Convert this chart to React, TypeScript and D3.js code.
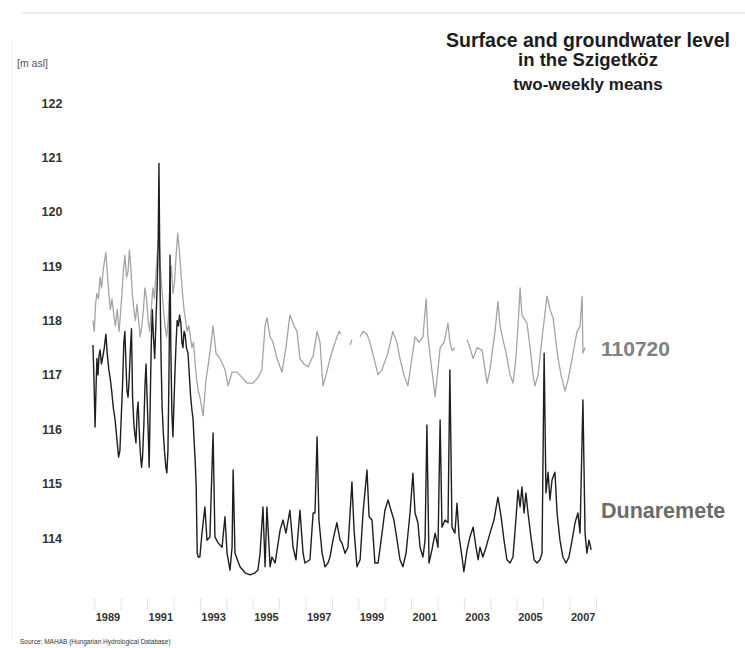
import React from "react";
import * as d3 from "d3";

// Year labels on the time axis (each label sits in the middle of its year)
const yearLabels = [1989, 1991, 1993, 1995, 1997, 1999, 2001, 2003, 2005, 2007];
// Level ticks in metres above sea level
const levelTicks = [114, 115, 116, 117, 118, 119, 120, 121, 122];

// Dunaremete (Danube surface water), two-weekly means: [decimal year, m asl]
const dunaremete: [number, number][] = [
  [1988.93, 117.55], [1988.97, 116.9], [1989.01, 116.04], [1989.05, 116.8], [1989.08, 117.3],
  [1989.12, 117.0], [1989.16, 117.35], [1989.2, 117.46], [1989.25, 117.2], [1989.31, 117.35],
  [1989.36, 117.5], [1989.42, 117.75], [1989.47, 117.4], [1989.53, 117.1], [1989.58, 116.95],
  [1989.64, 116.7], [1989.7, 116.4], [1989.77, 116.17], [1989.84, 115.8], [1989.9, 115.49],
  [1989.95, 115.6], [1990.0, 116.2], [1990.05, 116.8], [1990.1, 117.6], [1990.14, 117.8],
  [1990.18, 117.2], [1990.22, 116.7], [1990.26, 116.59], [1990.3, 116.9], [1990.35, 117.5],
  [1990.39, 117.85], [1990.43, 116.6], [1990.48, 116.1], [1990.52, 115.9], [1990.56, 115.75],
  [1990.6, 116.3], [1990.64, 116.5], [1990.68, 116.0], [1990.72, 115.6], [1990.77, 115.3],
  [1990.81, 115.5], [1990.86, 116.1], [1990.9, 116.8], [1990.94, 117.2], [1990.98, 116.6],
  [1991.02, 116.0], [1991.06, 115.3], [1991.1, 116.5], [1991.14, 117.6], [1991.18, 118.2],
  [1991.22, 117.7], [1991.27, 117.3], [1991.31, 117.9], [1991.36, 118.6], [1991.4, 119.4],
  [1991.43, 120.89], [1991.47, 118.7], [1991.51, 117.3], [1991.55, 116.4], [1991.6, 115.9],
  [1991.64, 115.6], [1991.69, 115.3], [1991.73, 115.2], [1991.77, 115.6], [1991.81, 117.0],
  [1991.85, 119.2], [1991.88, 117.5], [1991.92, 116.3], [1991.96, 115.86], [1992.0, 116.5],
  [1992.04, 117.1], [1992.08, 117.6], [1992.12, 118.0], [1992.17, 117.9], [1992.21, 118.1],
  [1992.26, 117.95], [1992.3, 117.6], [1992.34, 117.5], [1992.38, 117.8], [1992.42, 117.75],
  [1992.47, 117.5], [1992.53, 117.4], [1992.58, 117.0], [1992.63, 116.6], [1992.68, 116.35],
  [1992.72, 116.2], [1992.76, 115.8], [1992.8, 115.45], [1992.84, 114.95], [1992.88, 113.72],
  [1992.92, 113.65], [1992.98, 113.65], [1993.06, 114.09], [1993.17, 114.57], [1993.25, 113.96],
  [1993.36, 114.02], [1993.48, 115.93], [1993.55, 114.02], [1993.67, 113.91], [1993.82, 113.83],
  [1993.93, 114.39], [1994.01, 113.72], [1994.12, 113.41], [1994.2, 113.83], [1994.24, 115.25],
  [1994.31, 113.72], [1994.5, 113.47], [1994.69, 113.36], [1994.88, 113.32], [1995.07, 113.36],
  [1995.18, 113.41], [1995.26, 113.72], [1995.37, 114.57], [1995.45, 113.47], [1995.52, 114.57],
  [1995.64, 113.47], [1995.71, 113.65], [1995.83, 113.54], [1996.02, 114.15], [1996.13, 114.33],
  [1996.24, 114.09], [1996.39, 114.51], [1996.51, 113.83], [1996.62, 113.6], [1996.77, 114.51],
  [1996.89, 113.72], [1996.96, 113.54], [1997.15, 113.6], [1997.27, 114.46], [1997.34, 114.46],
  [1997.42, 115.86], [1997.49, 114.33], [1997.61, 113.72], [1997.72, 113.47], [1997.83, 113.54],
  [1997.91, 113.65], [1998.02, 113.96], [1998.17, 114.28], [1998.29, 113.96], [1998.36, 113.91],
  [1998.48, 113.72], [1998.59, 113.83], [1998.67, 114.46], [1998.74, 115.03], [1998.82, 114.15],
  [1998.93, 113.47], [1999.05, 113.6], [1999.16, 114.46], [1999.23, 114.83], [1999.31, 115.25],
  [1999.39, 114.39], [1999.5, 114.33], [1999.61, 113.54], [1999.73, 113.54], [1999.88, 114.09],
  [1999.99, 114.51], [2000.11, 114.7], [2000.22, 114.51], [2000.33, 114.33], [2000.45, 113.96],
  [2000.56, 113.6], [2000.67, 113.47], [2000.79, 113.72], [2000.94, 114.46], [2001.05, 115.19],
  [2001.13, 114.46], [2001.24, 114.28], [2001.32, 113.83], [2001.43, 113.65], [2001.51, 113.96],
  [2001.58, 116.08], [2001.66, 113.54], [2001.77, 113.78], [2001.89, 114.09], [2002.0, 113.83],
  [2002.08, 116.17], [2002.15, 114.2], [2002.27, 114.33], [2002.38, 114.28], [2002.45, 117.09],
  [2002.53, 114.2], [2002.64, 114.09], [2002.72, 114.64], [2002.8, 114.02], [2002.91, 113.65],
  [2002.98, 113.38], [2003.1, 113.78], [2003.21, 114.02], [2003.33, 114.2], [2003.44, 113.83],
  [2003.52, 113.6], [2003.59, 113.83], [2003.7, 113.65], [2003.82, 113.83], [2003.97, 114.09],
  [2004.12, 114.33], [2004.27, 114.75], [2004.39, 114.39], [2004.5, 113.96], [2004.61, 113.6],
  [2004.73, 113.54], [2004.84, 113.65], [2004.95, 114.33], [2005.03, 114.88], [2005.11, 114.57],
  [2005.18, 114.94], [2005.26, 114.46], [2005.33, 114.83], [2005.41, 114.46], [2005.52, 114.02],
  [2005.64, 113.6], [2005.75, 113.54], [2005.86, 113.6], [2005.94, 113.72], [2006.02, 117.4],
  [2006.09, 114.83], [2006.17, 115.21], [2006.24, 114.7], [2006.32, 115.07], [2006.43, 115.21],
  [2006.51, 114.46], [2006.62, 113.96], [2006.73, 113.65], [2006.85, 113.54], [2006.96, 113.65],
  [2007.08, 113.96], [2007.19, 114.28], [2007.3, 114.46], [2007.38, 114.09], [2007.49, 116.54],
  [2007.57, 114.09], [2007.64, 113.72], [2007.72, 113.96], [2007.8, 113.78],
];

// Groundwater well 110720, two-weekly means: [decimal year, m asl]; null marks a gap in the record
const well110720: [number, number | null][] = [
  [1988.93, 118.0], [1988.98, 117.8], [1989.03, 118.3], [1989.08, 118.5], [1989.14, 118.4],
  [1989.2, 118.8], [1989.26, 118.6], [1989.31, 118.9], [1989.37, 119.1], [1989.42, 119.25],
  [1989.47, 118.9], [1989.53, 118.5], [1989.59, 118.2], [1989.65, 118.4], [1989.72, 118.1],
  [1989.78, 117.9], [1989.85, 118.2], [1989.92, 117.8], [1989.97, 118.1], [1990.03, 118.5],
  [1990.08, 118.9], [1990.14, 119.2], [1990.2, 118.8], [1990.26, 118.9], [1990.31, 119.3],
  [1990.36, 119.0], [1990.42, 118.5], [1990.48, 118.2], [1990.54, 118.0], [1990.6, 118.3],
  [1990.66, 118.0], [1990.72, 117.7], [1990.78, 117.9], [1990.84, 118.2], [1990.9, 118.6],
  [1990.96, 118.4], [1991.02, 118.0], [1991.08, 117.8], [1991.14, 118.2], [1991.2, 118.6],
  [1991.26, 118.4], [1991.32, 118.9], [1991.38, 119.3], [1991.43, 119.6], [1991.48, 119.0],
  [1991.54, 118.6], [1991.6, 118.2], [1991.66, 117.9], [1991.72, 117.7], [1991.78, 118.0],
  [1991.84, 118.6], [1991.9, 119.0], [1991.96, 118.5], [1992.02, 118.7], [1992.08, 119.2],
  [1992.14, 119.6], [1992.2, 119.3], [1992.26, 118.9], [1992.32, 118.5], [1992.38, 118.2],
  [1992.44, 118.0], [1992.5, 117.8], [1992.56, 117.9], [1992.62, 117.7], [1992.68, 117.5],
  [1992.74, 117.6], [1992.8, 117.2], [1992.86, 116.9], [1992.92, 116.7], [1992.98, 116.6],
  [1993.1, 116.25], [1993.21, 116.9], [1993.33, 117.3], [1993.48, 117.9], [1993.59, 117.4],
  [1993.74, 117.3], [1993.93, 117.1], [1994.05, 116.8], [1994.2, 117.05], [1994.39, 117.05],
  [1994.58, 116.95], [1994.77, 116.85], [1994.99, 116.85], [1995.18, 116.95], [1995.33, 117.1],
  [1995.45, 117.9], [1995.52, 118.05], [1995.64, 117.7], [1995.75, 117.6], [1995.9, 117.3],
  [1996.09, 117.05], [1996.24, 117.5], [1996.39, 118.1], [1996.55, 117.9], [1996.66, 117.8],
  [1996.77, 117.3], [1996.92, 117.2], [1997.08, 117.15], [1997.27, 117.35], [1997.42, 117.8],
  [1997.53, 117.6], [1997.64, 116.8], [1997.76, 117.0], [1997.91, 117.3], [1998.1, 117.6],
  [1998.25, 117.8], [1998.33, 117.75], [1998.4, null], [1998.67, 117.55], [1998.74, 117.65],
  [1998.9, null], [1999.05, 117.7], [1999.16, 117.8], [1999.31, 117.75], [1999.42, 117.6],
  [1999.58, 117.3], [1999.73, 117.0], [1999.88, 117.1], [2000.1, 117.4], [2000.29, 117.8],
  [2000.44, 117.6], [2000.56, 117.3], [2000.71, 117.0], [2000.86, 116.8], [2000.98, 117.2],
  [2001.13, 117.7], [2001.28, 117.6], [2001.43, 117.7], [2001.55, 118.4], [2001.62, 117.7],
  [2001.74, 117.2], [2001.89, 116.6], [2002.0, 117.1], [2002.08, 117.5], [2002.23, 117.6],
  [2002.38, 117.95], [2002.45, 117.6], [2002.53, 117.45], [2002.64, 117.5], [2002.8, null],
  [2003.1, 117.65], [2003.21, 117.5], [2003.33, 117.3], [2003.48, 117.5], [2003.67, 117.45],
  [2003.78, 117.1], [2003.86, 116.85], [2003.97, 117.1], [2004.05, 117.4], [2004.16, 117.8],
  [2004.27, 118.35], [2004.35, 117.9], [2004.46, 117.65], [2004.58, 117.4], [2004.73, 117.0],
  [2004.84, 116.85], [2004.95, 117.3], [2005.03, 117.9], [2005.11, 118.6], [2005.18, 118.1],
  [2005.37, 117.95], [2005.49, 117.5], [2005.6, 117.0], [2005.67, 116.8], [2005.79, 117.0],
  [2005.9, 117.5], [2006.02, 118.0], [2006.13, 118.45], [2006.24, 118.2], [2006.36, 118.05],
  [2006.47, 117.6], [2006.55, 117.3], [2006.66, 117.0], [2006.81, 116.7], [2006.92, 116.9],
  [2007.08, 117.3], [2007.19, 117.6], [2007.27, 117.8], [2007.38, 117.9], [2007.46, 118.45],
  [2007.49, 117.4], [2007.57, 117.5],
];

const titleLines = ["Surface and groundwater level", "in the Szigetköz"];
const subtitle = "two-weekly means";
const unitLabel = "[m asl]";
const sourceNote = "Source: MAHAB (Hungarian Hydrological Database)";

const W = 745;
const H = 648;
const FONT = "'Liberation Sans', Arial, Helvetica, sans-serif";

export default function App() {
  const x = d3.scaleLinear().domain([1989, 2008]).range([94.8, 596.4]);
  const y = d3.scaleLinear().domain([114, 122]).range([538, 103]);

  const line = d3
    .line<[number, number | null]>()
    .defined((d) => d[1] != null)
    .x((d) => x(d[0]))
    .y((d) => y(d[1] as number));

  const yearTicks = d3.range(1989, 2009);

  return (
    <svg
      width={W}
      height={H}
      style={{ position: "absolute", left: 0, top: 0, background: "#fff" }}
      fontFamily={FONT}
    >
      <rect width={W} height={H} fill="#fff" />

      {/* faint page frame */}
      <line x1={22} x2={745} y1={13} y2={13} stroke="#d8d8d8" strokeWidth={1} />
      <line x1={12} x2={12} y1={40} y2={640} stroke="#efefef" strokeWidth={1} />

      {/* title block */}
      <g fontWeight="bold" fill="#1c1c1c" textAnchor="middle">
        <text x={588} y={47} fontSize={19.5}>
          {titleLines[0]}
        </text>
        <text x={588} y={66} fontSize={18.5}>
          {titleLines[1]}
        </text>
        <text x={588} y={90} fontSize={17}>
          {subtitle}
        </text>
      </g>

      <text x={17} y={67} fontSize={10.5} fill="#555">
        {unitLabel}
      </text>

      {/* level axis labels */}
      <g fontWeight="bold" fontSize={12.5} fill="#333" textAnchor="middle">
        {levelTicks.map((v) => (
          <text key={v} x={52} y={y(v)} dy="0.36em">
            {v}
          </text>
        ))}
      </g>

      {/* faint year ticks */}
      <g stroke="#e2e2e2" strokeWidth={1}>
        {yearTicks.map((t) => (
          <line key={t} x1={x(t)} x2={x(t)} y1={598} y2={610} />
        ))}
      </g>

      {/* year labels */}
      <g fontWeight="bold" fontSize={11} fill="#333" textAnchor="middle">
        {yearLabels.map((yr) => (
          <text key={yr} x={x(yr + 0.5)} y={621}>
            {yr}
          </text>
        ))}
      </g>

      {/* series */}
      <path d={line(well110720) || ""} fill="none" stroke="#a4a4a4" strokeWidth={1.3} strokeLinejoin="round" />
      <path
        d={line(dunaremete as [number, number | null][]) || ""}
        fill="none"
        stroke="#1e1e1e"
        strokeWidth={1.4}
        strokeLinejoin="round"
      />

      {/* series names */}
      <text x={601} y={356} fontSize={21} fontWeight="bold" fill="#808080">
        110720
      </text>
      <text x={601} y={518} fontSize={21.5} fontWeight="bold" fill="#6b6b6b">
        Dunaremete
      </text>

      <text x={20} y={644} fontSize={6.5} fill="#333">
        {sourceNote}
      </text>
    </svg>
  );
}
